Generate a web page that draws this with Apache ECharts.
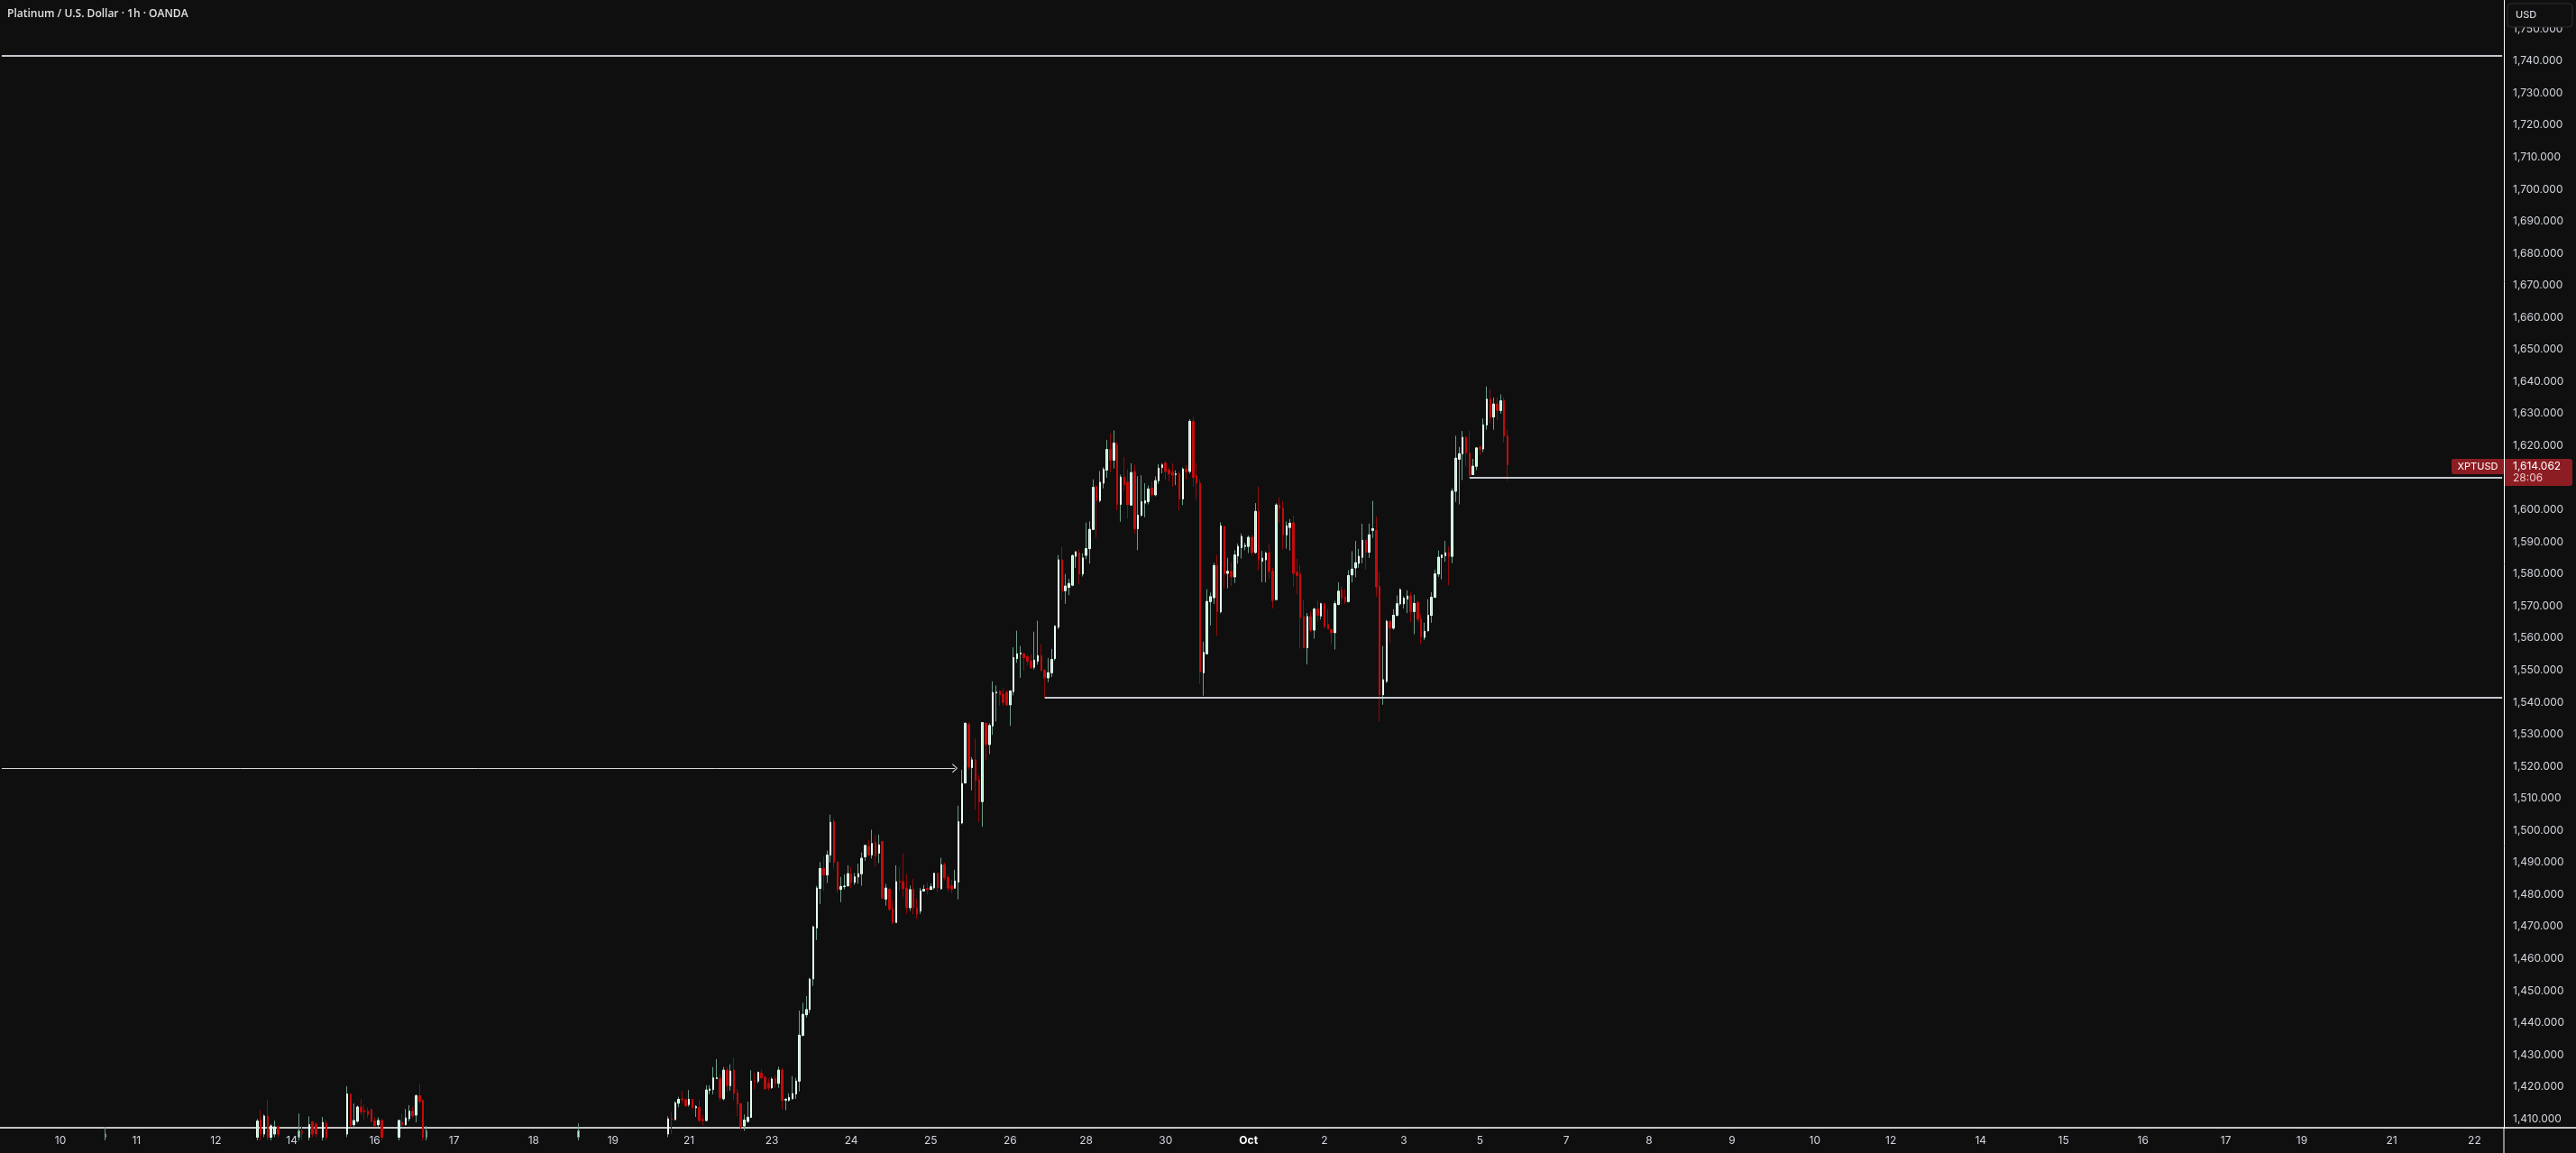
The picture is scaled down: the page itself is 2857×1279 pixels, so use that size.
<!DOCTYPE html>
<html>
<head>
<meta charset="utf-8">
<script src="https://cdn.jsdelivr.net/npm/echarts@6/dist/echarts.min.js"></script>
<style>
html,body{margin:0;padding:0;background:#0f0f0f;}
#chart{width:2857px;height:1279px;}
</style>
</head>
<body>
<div id="chart"></div>
<script>
// ---------------- data ----------------
const chartTitle = 'Platinum / U.S. Dollar · 1h · OANDA';
const symbolName = 'XPTUSD';
const currencyName = 'USD';
const barCount = 725;            // hourly slots on the time axis (incl. empty future)
const dayLabels   = ['10','11','12','14','16','17','18','19','21','23','24','25','26','28','30','Oct','2','3','5','7','8','9','10','12','14','15','16','17','19','21','22'];
const dayLabelBar = [17,39,62,84,108,131,154,177,199,223,246,269,292,314,337,361,383,406,428,453,477,501,525,547,573,597,620,644,666,692,716];
const priceMin = 1407.24;
const priceMax = 1759.04;
const lastPrice = 1614.062;
const countdown = '28:06';
const levelTop = 1741.6;
const levelSupport = 1541.4, levelSupportFromBar = 302;
const levelRecent = 1610.0, levelRecentFromBar = 425;
const arrowLevel = 1519.4, arrowToBar = 276;

// OHLC rows: [open, high, low, close]; null = no visible bar
const segA = {start: 30, rows: [[1404.3,1407.5,1403.3,1405.3]]};
const segB = {start: 74, rows: [
 [1404.3,1410.0,1403.3,1409.3],[1409.7,1412.8,1403.3,1405.3],[1405.3,1411.4,1404.3,1410.9],[1410.9,1416.0,1403.3,1404.3],
 [1404.3,1408.4,1403.3,1407.8],[1405.3,1409.5,1404.3,1407.5],[1407.5,1407.8,1404.3,1405.3]]};
const segC = {start: 86, rows: [
 [1404.3,1411.7,1403.3,1406.3],[1406.3,1407.9,1403.3,1405.3],null,[1404.3,1410.8,1403.3,1408.2],
 [1409.1,1409.1,1404.3,1405.3],[1408.4,1408.9,1404.3,1405.3],null,[1404.3,1410.6,1403.3,1408.9],[1408.6,1409.6,1403.3,1404.3]]};
const segD = {start: 100, rows: [
 [1405.3,1420.2,1404.3,1417.8],[1417.7,1417.9,1407.5,1407.9],[1408.2,1414.8,1407.3,1409.5],[1409.3,1414.2,1408.8,1413.7],
 [1413.7,1416.2,1411.2,1412.2],[1412.6,1414.5,1409.8,1412.2],[1412.4,1413.6,1410.3,1411.4],[1412.9,1413.3,1408.9,1409.3],
 [1409.3,1410.5,1407.5,1407.9],[1408.2,1410.5,1407.5,1409.5],[1409.5,1410.1,1403.3,1404.3]]};
const segE = {start: 115, rows: [
 [1404.3,1409.8,1403.3,1409.5],[1408.9,1411.7,1407.5,1408.2],[1408.2,1413.1,1407.9,1410.3],[1410.1,1414.3,1409.3,1412.4],
 [1412.4,1413.9,1410.3,1411.0],[1411.2,1417.7,1408.9,1417.2],[1417.2,1420.9,1414.8,1415.5],[1415.8,1415.9,1403.3,1404.3],
 [1404.3,1407.8,1403.3,1406.3]]};
const segF = {start: 167, rows: [[1404.3,1408.6,1403.3,1406.3]]};
const segG = {start: 193, rows: [
 [1405.3,1410.8,1404.3,1410.0],[1410.0,1412.2,1405.3,1409.8],[1409.8,1415.5,1409.6,1415.0],[1414.9,1416.9,1413.6,1416.1],
 [1416.2,1418.8,1415.0,1416.0],[1416.0,1416.1,1413.8,1414.1],[1414.5,1419.0,1413.8,1416.1],[1416.1,1416.3,1413.1,1413.5],
 [1413.5,1414.3,1410.6,1413.8],[1413.6,1415.9,1409.1,1409.5],[1409.8,1411.2,1407.9,1409.5],[1409.5,1420.5,1409.3,1419.0],
 [1418.9,1420.5,1417.7,1419.3],[1419.2,1426.2,1417.7,1422.8],[1422.6,1428.7,1422.5,1422.8],[1422.5,1423.9,1415.5,1416.6],
 [1416.3,1426.2,1415.8,1425.2],[1425.2,1426.2,1418.3,1420.4],[1420.4,1427.0,1418.8,1424.9],[1425.2,1429.2,1415.9,1418.0],
 [1418.2,1419.3,1410.8,1414.6],[1414.7,1415.0,1406.8,1407.6],[1407.8,1411.4,1406.3,1409.6],[1409.2,1415.4,1408.8,1410.5],
 [1410.5,1425.2,1410.3,1421.8],[1421.8,1424.5,1419.3,1421.6],[1421.8,1424.8,1421.1,1424.5],[1424.3,1425.3,1422.4,1422.8],
 [1423.0,1423.5,1419.4,1419.4],[1421.1,1422.6,1418.8,1419.7],[1419.7,1423.0,1419.4,1422.4],[1422.6,1423.7,1419.7,1421.1],
 [1421.1,1426.3,1419.7,1425.2],[1425.2,1425.9,1413.1,1415.8],[1415.9,1416.5,1412.7,1416.1],[1415.8,1418.0,1415.4,1416.7],
 [1416.3,1423.3,1416.0,1417.9],[1417.8,1422.8,1416.3,1421.8],[1421.8,1443.8,1418.6,1436.1],[1436.1,1446.2,1435.7,1442.6],
 [1442.5,1448.3,1441.6,1444.1],[1444.1,1454.0,1443.0,1453.6],[1453.7,1470.3,1451.5,1469.9],[1469.6,1482.7,1465.8,1482.0],
 [1481.9,1490.1,1477.0,1488.1],[1488.1,1491.8,1481.1,1486.1],[1486.1,1493.7,1483.6,1492.3],[1492.3,1504.9,1490.0,1502.5],
 [1502.7,1503.9,1488.1,1490.0],[1490.2,1490.2,1480.6,1481.6],[1481.6,1485.5,1477.6,1482.5],[1482.5,1486.3,1481.6,1482.6],
 [1482.7,1489.1,1482.5,1486.5],[1486.5,1488.7,1482.0,1483.8],[1483.8,1486.7,1483.0,1485.5],[1485.5,1489.6,1483.4,1486.5],
 [1486.5,1493.1,1482.7,1491.3],[1491.8,1495.5,1490.5,1495.3],[1495.0,1497.1,1491.9,1492.4],[1492.4,1500.2,1491.2,1495.9],
 [1496.2,1498.5,1488.6,1492.1],[1492.9,1498.7,1489.8,1495.5],[1496.5,1496.5,1478.9,1478.9],[1478.6,1483.3,1476.5,1482.0],
 [1481.6,1482.1,1474.8,1475.4],[1475.5,1478.3,1470.8,1471.3],[1471.3,1489.1,1471.1,1484.0],[1484.1,1488.6,1481.2,1483.8],
 [1484.0,1492.7,1479.3,1481.8],[1482.0,1486.4,1473.9,1475.9],[1475.9,1482.8,1474.9,1481.5],[1481.6,1484.9,1473.9,1475.9],
 [1475.9,1478.8,1472.4,1473.9],[1474.9,1482.1,1473.9,1481.2],[1481.1,1483.0,1481.1,1481.6],[1481.9,1483.7,1480.1,1481.5],
 [1481.6,1483.5,1481.4,1482.4],[1482.1,1486.8,1481.6,1486.6],[1486.6,1486.8,1480.7,1482.1],[1481.8,1491.5,1481.5,1489.3],
 [1489.3,1490.0,1484.4,1485.3],[1485.3,1486.3,1480.8,1482.0],[1482.7,1484.6,1480.4,1481.7],[1482.0,1487.7,1481.8,1484.2],
 [1483.9,1507.7,1478.5,1502.7],[1502.3,1518.9,1501.9,1514.6],[1514.8,1533.7,1514.8,1533.4],[1533.0,1533.8,1519.0,1519.8],
 [1519.6,1522.9,1512.5,1522.0],[1522.0,1528.7,1506.4,1515.6],[1515.8,1517.2,1502.6,1508.9],[1509.0,1533.8,1501.1,1533.6],
 [1533.4,1533.7,1522.0,1526.8],[1526.8,1533.4,1523.8,1532.7],[1532.6,1546.5,1529.8,1543.0],[1542.9,1545.2,1534.0,1543.1],
 [1543.5,1543.8,1538.9,1542.3],[1542.5,1544.4,1538.9,1539.9],[1543.1,1543.8,1538.8,1539.2],[1539.2,1543.7,1532.6,1543.5],
 [1543.3,1557.1,1542.1,1553.9],[1553.6,1562.3,1552.3,1555.1],[1555.1,1557.5,1547.6,1555.3],[1555.1,1555.3,1549.8,1553.9],
 [1554.2,1554.7,1551.4,1552.8],[1552.8,1554.9,1550.4,1550.7],[1550.9,1562.0,1550.2,1553.1],[1552.8,1565.4,1551.7,1554.5],
 [1554.5,1558.0,1549.5,1550.0],[1550.0,1550.0,1541.4,1547.6],[1547.6,1553.8,1546.2,1549.2],[1549.2,1556.6,1547.9,1553.3],
 [1553.6,1564.0,1553.0,1563.7],[1563.4,1585.9,1562.8,1584.4],[1584.4,1588.5,1572.0,1574.8],[1574.8,1580.0,1570.7,1576.2],
 [1575.8,1578.5,1573.4,1577.0],[1576.5,1586.1,1576.2,1585.7],[1585.5,1587.1,1581.9,1586.9],[1586.6,1587.6,1576.9,1580.0],
 [1580.0,1586.4,1579.2,1585.0],[1585.8,1596.0,1584.6,1587.9],[1587.9,1596.4,1583.2,1593.9],[1593.9,1609.5,1593.9,1607.0],
 [1607.2,1607.7,1591.3,1602.9],[1602.9,1612.1,1602.3,1608.6],[1608.3,1613.3,1606.7,1612.6],[1612.4,1621.8,1610.0,1618.8],
 [1618.8,1623.8,1611.9,1615.5],[1615.5,1624.8,1612.9,1620.8],[1620.3,1621.3,1599.8,1601.7],[1601.7,1611.0,1596.3,1610.2],
 [1610.2,1616.5,1605.8,1607.9],[1608.6,1612.7,1597.3,1601.7],[1601.5,1614.5,1601.5,1611.6],[1611.9,1614.0,1592.6,1594.1],
 [1594.1,1610.5,1587.4,1598.3],[1598.3,1610.8,1597.9,1602.5],[1602.1,1608.3,1597.7,1602.8],[1602.6,1607.6,1601.7,1606.5],
 [1606.8,1608.9,1603.9,1604.7],[1604.7,1610.4,1604.2,1609.1],[1609.1,1614.3,1608.1,1613.0],[1613.2,1614.5,1611.4,1614.0],
 [1614.6,1615.1,1609.4,1612.0],[1612.4,1613.2,1608.9,1611.2],[1611.7,1614.5,1607.2,1610.8],[1611.0,1612.3,1607.7,1611.2],
 [1611.2,1611.9,1599.8,1603.4],[1603.4,1613.2,1601.5,1612.7],[1612.7,1614.0,1609.5,1611.9],[1612.0,1628.3,1611.3,1627.6],
 [1627.6,1629.0,1607.3,1610.1],[1610.6,1614.5,1603.2,1608.3],[1608.3,1609.5,1545.7,1549.5],[1549.2,1558.9,1542.0,1555.5],
 [1555.1,1575.2,1555.1,1571.4],[1571.4,1574.2,1563.9,1572.9],[1572.6,1583.5,1570.6,1582.6],[1582.6,1585.9,1560.7,1568.3],
 [1568.2,1596.1,1567.7,1595.0],[1594.8,1595.0,1575.5,1580.0],[1580.2,1585.0,1575.5,1580.8],[1580.8,1583.6,1576.2,1579.1],
 [1579.1,1587.4,1577.2,1585.9],[1585.6,1589.5,1583.2,1588.6],[1588.2,1592.6,1584.8,1591.7],[1588.6,1589.7,1587.4,1588.9],
 [1588.6,1592.0,1586.5,1591.4],[1591.4,1592.2,1585.6,1586.7],[1586.7,1602.1,1586.3,1599.5],[1599.5,1607.2,1581.0,1584.4],
 [1584.0,1587.2,1577.4,1584.9],[1584.4,1587.0,1577.4,1586.5],[1586.5,1589.4,1578.6,1580.8],[1580.8,1581.9,1569.2,1571.7],
 [1572.0,1602.0,1572.0,1601.5],[1601.5,1603.9,1595.9,1600.5],[1600.5,1602.8,1587.6,1592.2],[1592.2,1596.4,1587.9,1595.0],
 [1594.5,1597.1,1587.3,1595.8],[1595.9,1598.3,1576.0,1580.2],[1580.5,1584.7,1573.6,1579.5],[1580.0,1582.8,1556.7,1566.4],
 [1566.7,1571.8,1557.0,1557.0],[1557.0,1567.8,1551.8,1566.7],[1566.7,1568.3,1561.7,1562.5],[1562.5,1569.5,1559.8,1569.0],
 [1569.0,1571.8,1565.0,1567.1],[1566.9,1571.0,1565.8,1570.7],[1570.7,1570.8,1563.1,1563.6],[1564.2,1569.0,1562.9,1562.9],
 [1562.6,1562.9,1558.0,1561.7],[1561.7,1571.6,1556.4,1570.7],[1570.5,1577.4,1570.2,1574.6],[1575.0,1576.2,1570.5,1572.5],
 [1572.8,1575.2,1570.5,1571.4],[1571.4,1581.2,1571.1,1579.5],[1579.7,1587.1,1577.4,1581.5],[1581.9,1590.3,1578.9,1583.5],
 [1583.3,1587.8,1581.9,1585.5],[1585.2,1595.7,1583.3,1590.5],[1590.5,1590.5,1581.4,1586.8],[1586.8,1595.7,1585.0,1592.2],
 [1593.6,1602.8,1591.2,1594.1],[1593.6,1597.9,1572.9,1576.0],[1576.2,1580.7,1534.0,1542.3],[1542.3,1557.5,1539.2,1547.0],
 [1546.5,1565.7,1546.0,1565.2],[1565.2,1565.5,1558.4,1563.1],[1563.1,1569.0,1562.6,1567.1],[1567.1,1573.3,1566.7,1570.7],
 [1570.7,1575.5,1570.2,1575.1],[1570.7,1573.0,1569.2,1572.4],[1572.2,1574.9,1567.8,1573.1],[1573.1,1574.2,1565.0,1568.3],
 [1568.3,1573.5,1561.2,1570.8],[1571.1,1571.6,1564.8,1565.9],[1565.9,1567.4,1558.0,1560.4],[1560.2,1564.8,1559.4,1562.1],
 [1562.3,1572.1,1562.0,1567.1],[1567.1,1574.3,1564.8,1572.7],[1572.7,1581.4,1572.6,1580.0],[1580.0,1587.3,1579.1,1585.2],
 [1585.1,1586.1,1578.3,1585.9],[1585.7,1590.3,1583.8,1586.6],[1586.6,1588.6,1576.4,1585.5],[1585.5,1606.7,1583.3,1605.8],
 [1605.8,1623.1,1602.5,1616.1],[1615.8,1619.6,1601.7,1617.5],[1617.5,1624.6,1609.3,1622.6],[1622.6,1622.9,1613.5,1617.7],
 [1617.7,1624.6,1610.5,1610.8],[1611.0,1615.9,1610.8,1613.6],[1613.6,1619.5,1612.4,1619.3],[1619.5,1620.1,1617.0,1619.0],
 [1619.0,1628.5,1618.0,1626.5],[1626.5,1638.5,1625.0,1634.5],[1634.5,1637.5,1627.0,1629.0],[1629.0,1635.0,1625.0,1633.0],
 [1633.0,1635.0,1628.0,1631.0],[1631.0,1636.0,1630.0,1634.0],[1634.0,1635.0,1621.0,1623.0],[1623.0,1625.0,1609.0,1614.062]]};
const segments = [segA, segB, segC, segD, segE, segF, segG];

// ---------------- build ----------------
const upFill = '#bdeed6', upBorder = '#e8fff3', upWick = '#6f9c88';
const downFill = '#c40b0b', downWick = '#8e0b0b';
const axisTextColor = '#d1d4dc';
const bg = '#0f0f0f';

const ohlc = [];
segments.forEach(s => s.rows.forEach((r, k) => { ohlc[s.start + k] = r ? [r[0], r[3], r[2], r[1]] : null; }));
const wickData = [], bodyData = [];
for (let i = 0; i < ohlc.length; i++) {
  const d = ohlc[i];
  if (!d) { wickData.push(['-','-','-','-']); bodyData.push(['-','-','-','-']); continue; }
  wickData.push(d);
  bodyData.push([d[0], d[1], Math.min(d[0], d[1]), Math.max(d[0], d[1])]);
}
const categories = Array.from({length: barCount}, (_, i) => String(i));
const labelAt = {};
dayLabelBar.forEach((b, k) => { labelAt[b] = dayLabels[k]; });

function fmtPrice(v) {
  return v.toLocaleString('en-US', {minimumFractionDigits: 3, maximumFractionDigits: 3});
}
const chevron = 'path://M5,0 L10,9 L9,10 L5,2.4 L1,10 L0,9 Z';

const chart = echarts.init(document.getElementById('chart'), null, {renderer: 'canvas'});
chart.setOption({
  backgroundColor: bg,
  animation: false,
  grid: {left: 0, right: 80, top: 0, bottom: 28, containLabel: false},
  xAxis: {
    type: 'category', data: categories, boundaryGap: true,
    axisLine: {show: true, lineStyle: {color: '#ffffff', width: 1.5}},
    axisTick: {show: false},
    splitLine: {show: false},
    axisLabel: {
      interval: (i) => labelAt[i] !== undefined,
      formatter: (v, i) => { const t = labelAt[i]; if (t === undefined) return ''; return t === 'Oct' ? '{b|Oct}' : t; },
      color: axisTextColor, fontSize: 12, fontFamily: 'Inter', margin: 8,
      rich: {b: {fontWeight: 'bold', color: '#ffffff', fontSize: 12, fontFamily: 'Inter'}}
    }
  },
  yAxis: {
    type: 'value', position: 'right', min: priceMin, max: priceMax,
    minInterval: 10, maxInterval: 10, splitNumber: 35,
    axisLine: {show: true, lineStyle: {color: '#ffffff', width: 1}},
    axisTick: {show: false},
    splitLine: {show: false},
    axisLabel: {
      showMinLabel: false, showMaxLabel: false,
      color: axisTextColor, fontSize: 12, fontFamily: 'Inter', margin: 10,
      formatter: (v) => (Math.abs(v / 10 - Math.round(v / 10)) < 1e-6 ? fmtPrice(v) : '')
    }
  },
  series: [
    {
      type: 'candlestick', name: 'wicks', data: wickData, barWidth: 2, silent: true, z: 2,
      itemStyle: {color: upFill, color0: downFill, borderColor: upWick, borderColor0: downWick, borderWidth: 1},
      markLine: {
        silent: true, animation: false, symbol: ['none', 'none'], label: {show: false},
        lineStyle: {color: '#c4c7cf', width: 2, type: 'solid'},
        emphasis: {disabled: true},
        data: [
          [{coord: [0, levelTop]}, {coord: [barCount - 1, levelTop]}],
          [{coord: [levelSupportFromBar, levelSupport]}, {coord: [barCount - 1, levelSupport]}],
          [{coord: [levelRecentFromBar, levelRecent]}, {coord: [barCount - 1, levelRecent]}],
          [{coord: [0, arrowLevel], symbol: 'none', lineStyle: {color: '#d6d6d6', width: 1}},
           {coord: [arrowToBar, arrowLevel], symbol: chevron, symbolSize: [10, 6]}]
        ]
      }
    },
    {
      type: 'candlestick', name: 'bodies', data: bodyData, barWidth: 2, silent: true, z: 3,
      itemStyle: {color: upFill, color0: downFill, borderColor: upBorder, borderColor0: downFill, borderWidth: 1}
    }
  ]
});

const py = chart.convertToPixel({yAxisIndex: 0}, lastPrice);
const axisX = 2857 - 80;
const plotBottom = 1279 - 28;
chart.setOption({
  graphic: [
    {type: 'text', x: 8, y: 16, z: 100, style: {text: chartTitle, fill: '#e0e0e0', font: '600 12px "Open Sans"', verticalAlign: 'middle'}},
    {type: 'line', z: 100, shape: {x1: axisX, y1: plotBottom, x2: 2857, y2: plotBottom}, style: {stroke: '#ffffff', lineWidth: 1.5}},
    {type: 'line', z: 100, shape: {x1: axisX, y1: plotBottom, x2: axisX, y2: 1279}, style: {stroke: '#ffffff', lineWidth: 1}},
    {type: 'rect', z: 100, shape: {x: 2781, y: 4, width: 72, height: 26, r: 4}, style: {fill: bg, stroke: '#2f2f2f', lineWidth: 1}},
    {type: 'text', z: 101, x: 2790, y: 17, style: {text: currencyName, fill: axisTextColor, font: '500 11px Inter', verticalAlign: 'middle'}},
    {type: 'rect', z: 100, shape: {x: axisX + 1, y: py - 6.5, width: 75, height: 30, r: [0, 3, 3, 0]}, style: {fill: '#8c1d23'}},
    {type: 'text', z: 101, x: axisX + 10, y: py + 1.5, style: {text: fmtPrice(lastPrice), fill: '#ffffff', font: '12px Inter', verticalAlign: 'middle'}},
    {type: 'text', z: 101, x: axisX + 10, y: py + 14.5, style: {text: countdown, fill: '#e8c9cb', font: '12px Inter', verticalAlign: 'middle'}},
    {type: 'rect', z: 100, shape: {x: axisX - 58, y: py - 6.5, width: 58, height: 17, r: [2, 0, 0, 2]}, style: {fill: '#8c1d23'}},
    {type: 'text', z: 101, x: axisX - 29, y: py + 2, style: {text: symbolName, fill: '#ffffff', font: '11px Inter', align: 'center', verticalAlign: 'middle'}}
  ]
});
</script>
</body>
</html>
